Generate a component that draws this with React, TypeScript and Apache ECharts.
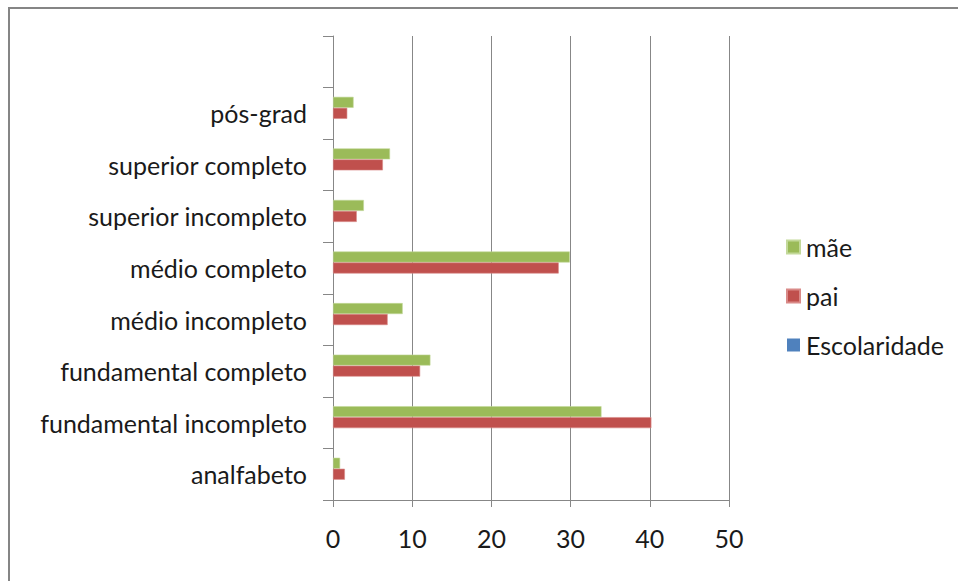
import React, { useEffect, useRef } from "react";
import * as echarts from "echarts";

// Education levels, bottom to top; the topmost category is left blank.
const categories = [
  "analfabeto",
  "fundamental incompleto",
  "fundamental completo",
  "médio incompleto",
  "médio completo",
  "superior incompleto",
  "superior completo",
  "pós-grad",
  "",
];

const escolaridade: (number | null)[] = [null, null, null, null, null, null, null, null, null];
const pai: (number | null)[] = [1.5, 40.2, 11.0, 6.9, 28.5, 3.0, 6.3, 1.8, null];
const mae: (number | null)[] = [0.9, 33.9, 12.3, 8.8, 29.9, 3.9, 7.2, 2.6, null];

const xTicks = [0, 10, 20, 30, 40, 50];

const FONT = "Lato, 'Open Sans', sans-serif";
const GRAY = "#878787";
const TEXT = "#1a1a1a";

export default function App() {
  const ref = useRef<HTMLDivElement>(null);

  useEffect(() => {
    if (!ref.current) return;
    const chart = echarts.init(ref.current, undefined, { renderer: "svg" });
    const barCommon = { type: "bar", barGap: "0%", barCategoryGap: "36%" };
    chart.setOption({
      animation: false,
      backgroundColor: "#ffffff",
      textStyle: { fontFamily: FONT },
      grid: { left: 333, right: 229, top: 36, bottom: 81, containLabel: false },
      legend: {
        orient: "vertical",
        left: 786,
        top: 234,
        padding: 0,
        itemWidth: 13,
        itemHeight: 13,
        itemGap: 23,
        icon: "rect",
        data: ["mãe", "pai", "Escolaridade"],
        textStyle: { fontFamily: FONT, fontSize: 25, color: TEXT, lineHeight: 26, padding: [0, 0, 0, 1] },
      },
      xAxis: {
        type: "value",
        min: xTicks[0],
        max: xTicks[xTicks.length - 1],
        interval: 10,
        axisLine: { show: true, lineStyle: { color: GRAY, width: 1 } },
        axisTick: { show: true, length: 7, lineStyle: { color: GRAY } },
        splitLine: { show: true, lineStyle: { color: GRAY, width: 1 } },
        axisLabel: { fontFamily: FONT, fontSize: 25, color: TEXT, margin: 25 },
      },
      yAxis: {
        type: "category",
        data: categories,
        axisLine: { show: true, lineStyle: { color: GRAY, width: 1 } },
        axisTick: { show: true, length: 10, lineStyle: { color: GRAY } },
        axisLabel: { fontFamily: FONT, fontSize: 25, color: TEXT, margin: 26, padding: [0, 0, 4, 0] },
      },
      // Within each band the first series sits on top: mãe, then pai, then Escolaridade.
      series: [
        {
          ...barCommon,
          name: "mãe",
          data: mae,
          itemStyle: { color: "#9BBB59", borderColor: "#c3d99a", borderWidth: 0.6 },
        },
        {
          ...barCommon,
          name: "pai",
          data: pai,
          itemStyle: { color: "#C0504D", borderColor: "#d98a88", borderWidth: 0.6 },
        },
        {
          ...barCommon,
          name: "Escolaridade",
          data: escolaridade,
          itemStyle: { color: "#4F81BD" },
        },
      ],
      graphic: [
        { type: "rect", shape: { x: 8, y: 7, width: 960, height: 2 }, style: { fill: "#858585" } },
        { type: "rect", shape: { x: 8, y: 7, width: 2, height: 600 }, style: { fill: "#858585" } },
      ],
    });
    return () => chart.dispose();
  }, []);

  return (
    <div
      ref={ref}
      style={{ position: "fixed", left: 0, top: 0, width: 958, height: 581 }}
    />
  );
}
